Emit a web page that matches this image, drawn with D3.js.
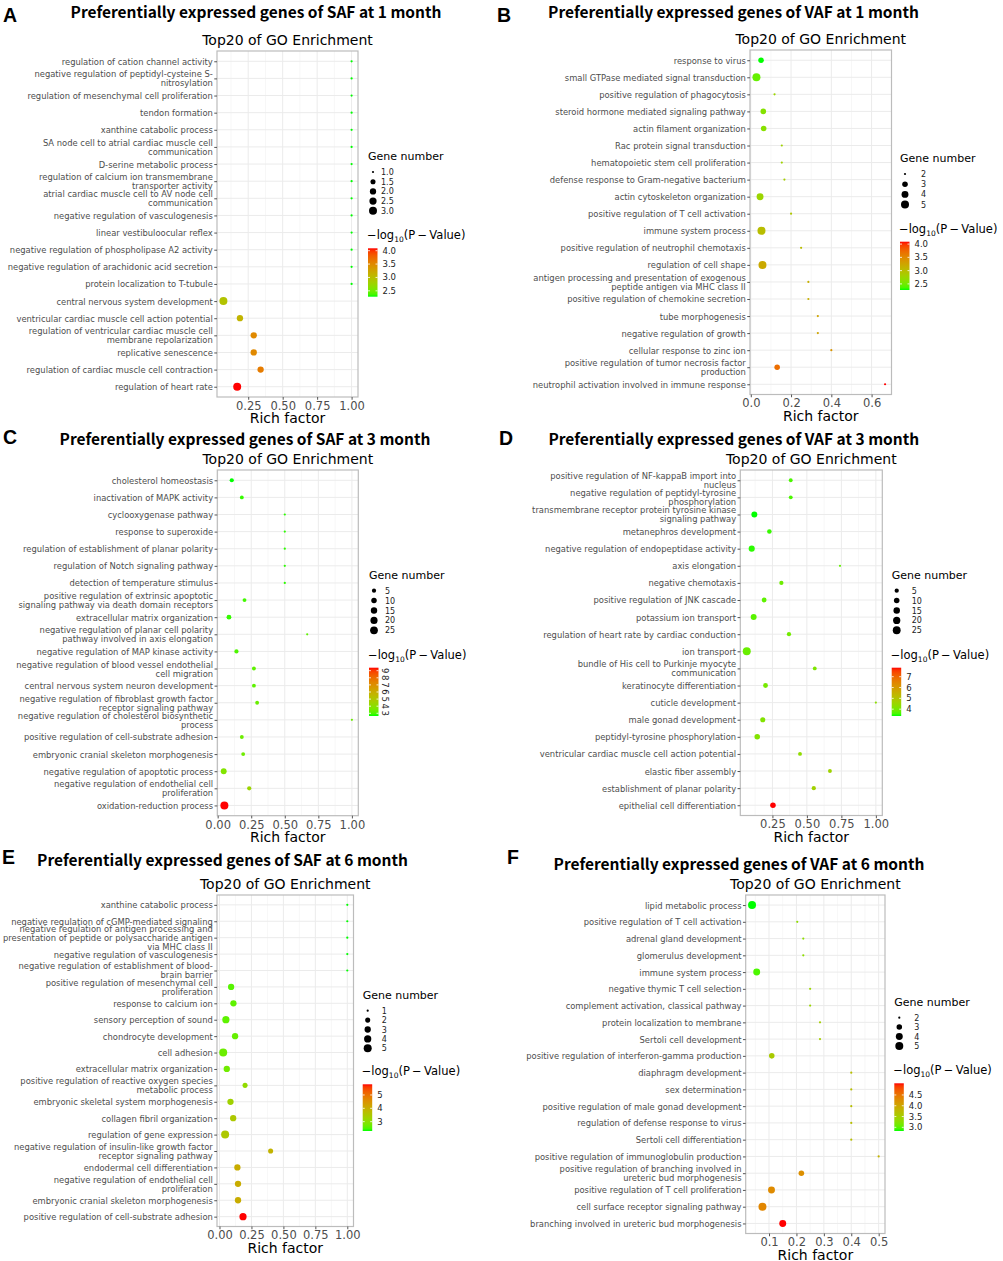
<!DOCTYPE html>
<html>
<head>
<meta charset="utf-8">
<script src="https://cdn.jsdelivr.net/npm/d3@7"></script>
<style>
body { margin: 0; background: #fff; }
svg text { font-family: "DejaVu Sans", sans-serif; }
</style>
</head>
<body>
<svg id="chart" width="1003" height="1261"></svg>
<script>
// ---- data: terms listed top to bottom ----
var termsA = ["regulation of cation channel activity", "negative regulation of peptidyl-cysteine S-\nnitrosylation",
  "regulation of mesenchymal cell proliferation", "tendon formation", "xanthine catabolic process",
  "SA node cell to atrial cardiac muscle cell\ncommunication", "D-serine metabolic process",
  "regulation of calcium ion transmembrane\ntransporter activity", "atrial cardiac muscle cell to AV node cell\ncommunication",
  "negative regulation of vasculogenesis", "linear vestibuloocular reflex", "negative regulation of phospholipase A2 activity",
  "negative regulation of arachidonic acid secretion", "protein localization to T-tubule", "central nervous system development",
  "ventricular cardiac muscle cell action potential", "regulation of ventricular cardiac muscle cell\nmembrane repolarization",
  "replicative senescence", "regulation of cardiac muscle cell contraction", "regulation of heart rate"];
var richA = [1, 1, 1, 1, 1, 1, 1, 1, 1, 1, 1, 1, 1, 1, 0.07, 0.19, 0.29, 0.29, 0.34, 0.17];
var countA = [1, 1, 1, 1, 1, 1, 1, 1, 1, 1, 1, 1, 1, 1, 3, 2, 2, 2, 2, 3];
var logpA = [2.28, 2.28, 2.28, 2.28, 2.28, 2.28, 2.28, 2.28, 2.28, 2.28, 2.28, 2.28, 2.28, 2.28, 2.95, 3.1, 3.5, 3.5, 3.6, 4.09];

var termsB = ["response to virus", "small GTPase mediated signal transduction", "positive regulation of phagocytosis",
  "steroid hormone mediated signaling pathway", "actin filament organization", "Rac protein signal transduction",
  "hematopoietic stem cell proliferation", "defense response to Gram-negative bacterium", "actin cytoskeleton organization",
  "positive regulation of T cell activation", "immune system process", "positive regulation of neutrophil chemotaxis",
  "regulation of cell shape", "antigen processing and presentation of exogenous\npeptide antigen via MHC class II",
  "positive regulation of chemokine secretion", "tube morphogenesis", "negative regulation of growth",
  "cellular response to zinc ion", "positive regulation of tumor necrosis factor\nproduction",
  "neutrophil activation involved in immune response"];
var richB = [0.051, 0.028, 0.118, 0.062, 0.064, 0.154, 0.154, 0.167, 0.046, 0.2, 0.053, 0.25, 0.058, 0.286, 0.286, 0.333, 0.333, 0.4, 0.131, 0.667];
var countB = [3, 5, 2, 3, 3, 2, 2, 2, 4, 2, 5, 2, 5, 2, 2, 2, 2, 2, 3, 2];
var logpB = [2.27, 2.45, 2.75, 2.6, 2.62, 2.78, 2.78, 2.82, 2.75, 2.9, 3.0, 3.0, 3.2, 3.15, 3.15, 3.25, 3.25, 3.4, 3.7, 4.09];

var termsC = ["cholesterol homeostasis", "inactivation of MAPK activity", "cyclooxygenase pathway", "response to superoxide",
  "regulation of establishment of planar polarity", "regulation of Notch signaling pathway", "detection of temperature stimulus",
  "positive regulation of extrinsic apoptotic\nsignaling pathway via death domain receptors", "extracellular matrix organization",
  "negative regulation of planar cell polarity\npathway involved in axis elongation", "negative regulation of MAP kinase activity",
  "negative regulation of blood vessel endothelial\ncell migration", "central nervous system neuron development",
  "negative regulation of fibroblast growth factor\nreceptor signaling pathway", "negative regulation of cholesterol biosynthetic\nprocess",
  "positive regulation of cell-substrate adhesion", "embryonic cranial skeleton morphogenesis",
  "negative regulation of apoptotic process", "negative regulation of endothelial cell\nproliferation", "oxidation-reduction process"];
var richC = [0.105, 0.18, 0.5, 0.5, 0.5, 0.5, 0.5, 0.2, 0.084, 0.667, 0.14, 0.27, 0.27, 0.294, 1.0, 0.18, 0.19, 0.045, 0.235, 0.05];
var countC = [5, 4, 2, 2, 2, 2, 2, 4, 7, 2, 5, 4, 4, 4, 2, 4, 4, 12, 5, 27];
var logpC = [2.62, 2.8, 2.75, 2.75, 2.75, 2.75, 2.75, 2.9, 2.8, 3.2, 3.0, 3.2, 3.2, 3.35, 3.4, 3.4, 3.45, 3.8, 4.4, 9.42];

var termsD = ["positive regulation of NF-kappaB import into\nnucleus", "negative regulation of peptidyl-tyrosine\nphosphorylation",
  "transmembrane receptor protein tyrosine kinase\nsignaling pathway", "metanephros development",
  "negative regulation of endopeptidase activity", "axis elongation", "negative chemotaxis", "positive regulation of JNK cascade",
  "potassium ion transport", "regulation of heart rate by cardiac conduction", "ion transport",
  "bundle of His cell to Purkinje myocyte\ncommunication", "keratinocyte differentiation", "cuticle development",
  "male gonad development", "peptidyl-tyrosine phosphorylation", "ventricular cardiac muscle cell action potential",
  "elastic fiber assembly", "establishment of planar polarity", "epithelial cell differentiation"];
var richD = [0.383, 0.383, 0.119, 0.228, 0.10, 0.74, 0.315, 0.19, 0.114, 0.37, 0.064, 0.557, 0.2, 1.0, 0.18, 0.14, 0.45, 0.667, 0.55, 0.254];
var countD = [4, 4, 12, 6, 13, 2, 5, 7, 12, 5, 26, 4, 7, 2, 8, 10, 4, 4, 5, 10];
var logpD = [3.6, 3.6, 3.37, 3.5, 3.45, 3.8, 3.9, 3.75, 3.7, 3.95, 3.85, 4.1, 4.0, 4.3, 4.15, 4.15, 4.35, 4.6, 4.65, 7.83];

var termsE = ["xanthine catabolic process", "negative regulation of cGMP-mediated signaling",
  "negative regulation of antigen processing and\npresentation of peptide or polysaccharide antigen\nvia MHC class II",
  "negative regulation of vasculogenesis", "negative regulation of establishment of blood-\nbrain barrier",
  "positive regulation of mesenchymal cell\nproliferation", "response to calcium ion", "sensory perception of sound",
  "chondrocyte development", "cell adhesion", "extracellular matrix organization",
  "positive regulation of reactive oxygen species\nmetabolic process", "embryonic skeletal system morphogenesis",
  "collagen fibril organization", "regulation of gene expression",
  "negative regulation of insulin-like growth factor\nreceptor signaling pathway", "endodermal cell differentiation",
  "negative regulation of endothelial cell\nproliferation", "embryonic cranial skeleton morphogenesis",
  "positive regulation of cell-substrate adhesion"];
var richE = [1, 1, 1, 1, 1, 0.091, 0.109, 0.05, 0.122, 0.029, 0.057, 0.2, 0.086, 0.107, 0.044, 0.4, 0.14, 0.145, 0.145, 0.184];
var countE = [1, 1, 1, 1, 1, 3, 3, 4, 3, 5, 3, 2, 3, 3, 5, 2, 3, 3, 3, 4];
var logpE = [2.3, 2.3, 2.3, 2.3, 2.3, 2.55, 2.6, 2.6, 2.65, 2.7, 2.75, 3.1, 3.3, 3.5, 3.5, 3.9, 4.05, 4.05, 4.05, 5.8];

var termsF = ["lipid metabolic process", "positive regulation of T cell activation", "adrenal gland development",
  "glomerulus development", "immune system process", "negative thymic T cell selection",
  "complement activation, classical pathway", "protein localization to membrane", "Sertoli cell development",
  "positive regulation of interferon-gamma production", "diaphragm development", "sex determination",
  "positive regulation of male gonad development", "regulation of defense response to virus", "Sertoli cell differentiation",
  "positive regulation of immunoglobulin production", "positive regulation of branching involved in\nureteric bud morphogenesis",
  "positive regulation of T cell proliferation", "cell surface receptor signaling pathway",
  "branching involved in ureteric bud morphogenesis"];
var richF = [0.038, 0.203, 0.225, 0.225, 0.055, 0.25, 0.25, 0.286, 0.286, 0.11, 0.4, 0.4, 0.4, 0.4, 0.4, 0.5, 0.218, 0.109, 0.076, 0.15];
var countF = [5, 2, 2, 2, 4, 2, 2, 2, 2, 3, 2, 2, 2, 2, 2, 2, 3, 4, 5, 4];
var logpF = [2.83, 3.3, 3.3, 3.3, 2.95, 3.4, 3.4, 3.5, 3.5, 3.55, 3.7, 3.7, 3.7, 3.7, 3.7, 3.85, 4.25, 4.3, 4.35, 5.04];

// axis and legend breaks
var xTicksA = [0.25, 0.5, 0.75, 1.0], xTicksB = [0, 0.2, 0.4, 0.6], xTicksC = [0, 0.25, 0.5, 0.75, 1.0];
var xTicksD = [0.25, 0.5, 0.75, 1.0], xTicksE = [0, 0.25, 0.5, 0.75, 1.0], xTicksF = [0.1, 0.2, 0.3, 0.4, 0.5];
var sizeBreaksA = [1, 1.5, 2, 2.5, 3], sizeBreaksB = [2, 3, 4, 5], sizeBreaksC = [5, 10, 15, 20, 25];
var sizeBreaksD = [5, 10, 15, 20, 25], sizeBreaksE = [1, 2, 3, 4, 5], sizeBreaksF = [2, 3, 4, 5];
var colorBreaksA = [2.5, 3, 3.5, 4], colorBreaksB = [2.5, 3, 3.5, 4], colorBreaksC = [3, 4, 5, 6, 7, 8, 9];
var colorBreaksD = [4, 5, 6, 7], colorBreaksE = [3, 4, 5], colorBreaksF = [3, 3.5, 4, 4.5];

var panels = [
  { letter: 'A', title: 'Preferentially expressed genes of SAF at 1 month', terms: termsA, rich: richA, count: countA, logp: logpA,
    xTicks: xTicksA, xFmt: '.2f', sizeBreaks: sizeBreaksA, sizeFmt: '.1f', colorBreaks: colorBreaksA, colorFmt: '.1f',
    lx: 3, ly: 22, tx: 256, ty: 18, left: 217, right: 358, top: 51, bottom: 397,
    legX: 368, keyTop: 172, keyStep: 9.7, keyDx: 8, barTop: 248.3, barBot: 296.7 },
  { letter: 'B', title: 'Preferentially expressed genes of VAF at 1 month', terms: termsB, rich: richB, count: countB, logp: logpB,
    xTicks: xTicksB, xFmt: '.1f', sizeBreaks: sizeBreaksB, sizeFmt: 'd', colorBreaks: colorBreaksB, colorFmt: '.1f',
    lx: 497, ly: 22, tx: 733.5, ty: 18, left: 750, right: 891.5, top: 50, bottom: 394.5,
    legX: 900, keyTop: 174, keyStep: 10.2, keyDx: 16, barTop: 241.7, barBot: 290 },
  { letter: 'C', title: 'Preferentially expressed genes of SAF at 3 month', terms: termsC, rich: richC, count: countC, logp: logpC,
    xTicks: xTicksC, xFmt: '.2f', sizeBreaks: sizeBreaksC, sizeFmt: 'd', colorBreaks: colorBreaksC, colorFmt: 'd', rotate: true,
    lx: 3, ly: 444, tx: 245, ty: 444.5, left: 217.3, right: 358.3, top: 470, bottom: 815.7,
    legX: 369, keyTop: 590.7, keyStep: 9.9, keyDx: 11, barTop: 667.7, barBot: 716 },
  { letter: 'D', title: 'Preferentially expressed genes of VAF at 3 month', terms: termsD, rich: richD, count: countD, logp: logpD,
    xTicks: xTicksD, xFmt: '.2f', sizeBreaks: sizeBreaksD, sizeFmt: 'd', colorBreaks: colorBreaksD, colorFmt: 'd',
    lx: 499, ly: 445, tx: 733.8, ty: 445, left: 740.3, right: 882.3, top: 470, bottom: 815.5,
    legX: 891.7, keyTop: 590.7, keyStep: 9.9, keyDx: 15, barTop: 667.7, barBot: 716 },
  { letter: 'E', title: 'Preferentially expressed genes of SAF at 6 month', terms: termsE, rich: richE, count: countE, logp: logpE,
    xTicks: xTicksE, xFmt: '.2f', sizeBreaks: sizeBreaksE, sizeFmt: 'd', colorBreaks: colorBreaksE, colorFmt: 'd',
    lx: 2, ly: 864, tx: 222.5, ty: 865.5, left: 217, right: 353.5, top: 895, bottom: 1226.5,
    legX: 362.7, keyTop: 1010.7, keyStep: 9.4, keyDx: 14, barTop: 1084.3, barBot: 1131 },
  { letter: 'F', title: 'Preferentially expressed genes of VAF at 6 month', terms: termsF, rich: richF, count: countF, logp: logpF,
    xTicks: xTicksF, xFmt: '.1f', sizeBreaks: sizeBreaksF, sizeFmt: 'd', colorBreaks: colorBreaksF, colorFmt: '.1f',
    lx: 507, ly: 864, tx: 739, ty: 869.5, left: 745.7, right: 885, top: 895, bottom: 1233.5,
    legX: 894.3, keyTop: 1017.7, keyStep: 9.4, keyDx: 15, barTop: 1083.3, barBot: 1131 }
];

var svg = d3.select('#chart');
var defs = svg.append('defs');
var rMin = 1.1, rMax = 4.0;

function drawPanel(p, idx) {
  var g = svg.append('g').attr('class', 'panel');
  var n = p.terms.length;

  // ggplot style 5% expansion on the continuous axis
  var ext = d3.extent(p.rich), pad = (ext[1] - ext[0]) * 0.05;
  var x = d3.scaleLinear().domain([ext[0] - pad, ext[1] + pad]).range([p.left, p.right]);
  var y = d3.scalePoint().domain(d3.range(n)).range([p.top, p.bottom]).padding(0.6);

  var sExt = d3.extent(p.count);
  var sz = d3.scaleLinear().domain(sExt).range([0, 1]).clamp(true);
  var radius = function(v) { return rMin + (rMax - rMin) * Math.sqrt(sz(v)); };

  var cExt = d3.extent(p.logp);
  var color = d3.scaleLinear().domain(cExt).range(['#00ff00', '#ff0000']).interpolate(d3.interpolateLab);

  // panel letter + titles
  g.append('text').attr('x', p.lx).attr('y', p.ly)
    .style('font-family', '"Liberation Sans", Arial, sans-serif').style('font-weight', 'bold')
    .style('font-size', '19.5px').text(p.letter);

  var title = g.append('text').attr('x', p.tx).attr('y', p.ty).attr('text-anchor', 'middle')
    .style('font-family', '"Noto Sans CJK SC", "Noto Sans", sans-serif').style('font-weight', 'bold')
    .style('font-size', '16px').text(p.title);
  var len = title.node().getComputedTextLength();
  title.style('font-size', (16 * 371 / len) + 'px');

  g.append('text').attr('x', (p.left + p.right) / 2).attr('y', p.top - 6.5).attr('text-anchor', 'middle')
    .style('font-size', '14px').attr('fill', '#000').text('Top20 of GO Enrichment');

  // grid
  var step = p.xTicks[1] - p.xTicks[0];
  var minor = [];
  for (var i = -1; i < p.xTicks.length; i++) {
    var m = p.xTicks[0] + (i + 0.5) * step;
    if (m >= x.domain()[0] && m <= x.domain()[1]) minor.push(m);
  }
  g.selectAll('line.minor').data(minor).enter().append('line')
    .attr('x1', d => x(d)).attr('x2', d => x(d)).attr('y1', p.top).attr('y2', p.bottom)
    .attr('stroke', '#f2f2f2').attr('stroke-width', 0.6);
  g.selectAll('line.hmaj').data(d3.range(n)).enter().append('line')
    .attr('x1', p.left).attr('x2', p.right).attr('y1', d => y(d)).attr('y2', d => y(d))
    .attr('stroke', '#ebebeb').attr('stroke-width', 1);
  g.selectAll('line.vmaj').data(p.xTicks).enter().append('line')
    .attr('x1', d => x(d)).attr('x2', d => x(d)).attr('y1', p.top).attr('y2', p.bottom)
    .attr('stroke', '#ebebeb').attr('stroke-width', 1);

  // points
  g.selectAll('circle.pt').data(d3.range(n)).enter().append('circle')
    .attr('cx', d => x(p.rich[d])).attr('cy', d => y(d))
    .attr('r', d => radius(p.count[d])).attr('fill', d => color(p.logp[d]));

  // border
  g.append('rect').attr('x', p.left).attr('y', p.top)
    .attr('width', p.right - p.left).attr('height', p.bottom - p.top)
    .attr('fill', 'none').attr('stroke', '#bcbcbc').attr('stroke-width', 1.2);

  // y axis
  var yAxis = g.append('g').attr('transform', 'translate(' + p.left + ',0)')
    .call(d3.axisLeft(y).tickSize(2.75).tickPadding(1.5).tickFormat(''));
  yAxis.select('.domain').remove();
  yAxis.selectAll('.tick line').attr('stroke', '#555');
  yAxis.selectAll('.tick').each(function(d) {
    var lines = p.terms[d].split('\n');
    var t = d3.select(this).append('text').attr('x', -4.2).attr('text-anchor', 'end')
      .attr('fill', '#4d4d4d').style('font-size', '8.4px');
    lines.forEach(function(s, k) {
      t.append('tspan').attr('x', -4.2).attr('y', (k - (lines.length - 1) / 2) * 9 + 3).text(s);
    });
  });

  // x axis
  var xAxis = g.append('g').attr('transform', 'translate(0,' + p.bottom + ')')
    .call(d3.axisBottom(x).tickValues(p.xTicks).tickFormat(d3.format(p.xFmt)).tickSize(2.75).tickPadding(2));
  xAxis.select('.domain').remove();
  xAxis.selectAll('.tick line').attr('stroke', '#555');
  xAxis.selectAll('.tick text').attr('fill', '#4d4d4d').style('font-size', '11.5px')
    .style('font-family', '"DejaVu Sans", sans-serif');
  g.append('text').attr('x', (p.left + p.right) / 2).attr('y', p.bottom + 26).attr('text-anchor', 'middle')
    .style('font-size', '14px').text('Rich factor');

  // size legend
  g.append('text').attr('x', p.legX).attr('y', p.keyTop - 12).style('font-size', '11px').text('Gene number');
  var keys = g.selectAll('g.key').data(p.sizeBreaks).enter().append('g')
    .attr('transform', (d, k) => 'translate(' + (p.legX + 5) + ',' + (p.keyTop + k * p.keyStep) + ')');
  keys.append('circle').attr('r', d => radius(d)).attr('fill', '#000');
  keys.append('text').attr('x', p.keyDx).attr('y', 3).style('font-size', '8px').attr('fill', '#222')
    .text(d => d3.format(p.sizeFmt)(d));

  // colour legend
  var ct = g.append('text').attr('x', p.legX - 1).attr('y', p.barTop - 9).style('font-size', '11.5px');
  ct.append('tspan').text('\u2212log');
  ct.append('tspan').attr('dy', 3).style('font-size', '7.5px').text('10');
  ct.append('tspan').attr('dy', -3).text('(P\u2009\u2212\u2009Value)');

  var gid = 'grad' + idx;
  var grad = defs.append('linearGradient').attr('id', gid).attr('x1', 0).attr('y1', 1).attr('x2', 0).attr('y2', 0);
  d3.range(0, 1.0001, 0.05).forEach(function(t) {
    grad.append('stop').attr('offset', t).attr('stop-color', color(cExt[0] + t * (cExt[1] - cExt[0])));
  });
  var barW = 9.5;
  g.append('rect').attr('x', p.legX).attr('y', p.barTop).attr('width', barW).attr('height', p.barBot - p.barTop)
    .attr('fill', 'url(#' + gid + ')');
  var cy = d3.scaleLinear().domain(cExt).range([p.barBot, p.barTop]);
  g.selectAll('line.cb').data(p.colorBreaks).enter().append('line')
    .attr('x1', p.legX).attr('x2', p.legX + 2).attr('y1', d => cy(d)).attr('y2', d => cy(d))
    .attr('stroke', '#fff').attr('stroke-width', 0.8);
  g.selectAll('line.cb2').data(p.colorBreaks).enter().append('line')
    .attr('x1', p.legX + barW - 2).attr('x2', p.legX + barW).attr('y1', d => cy(d)).attr('y2', d => cy(d))
    .attr('stroke', '#fff').attr('stroke-width', 0.8);
  var cl = g.selectAll('text.cl').data(p.colorBreaks).enter().append('text')
    .style('font-size', '8.5px').attr('fill', '#222').text(d => d3.format(p.colorFmt)(d));
  if (p.rotate) {
    cl.attr('text-anchor', 'middle')
      .attr('transform', d => 'translate(' + (p.legX + barW + 3) + ',' + cy(d) + ') rotate(90)');
  } else {
    cl.attr('x', p.legX + barW + 5).attr('y', d => cy(d) + 3);
  }
}

panels.forEach(drawPanel);
</script>
</body>
</html>
